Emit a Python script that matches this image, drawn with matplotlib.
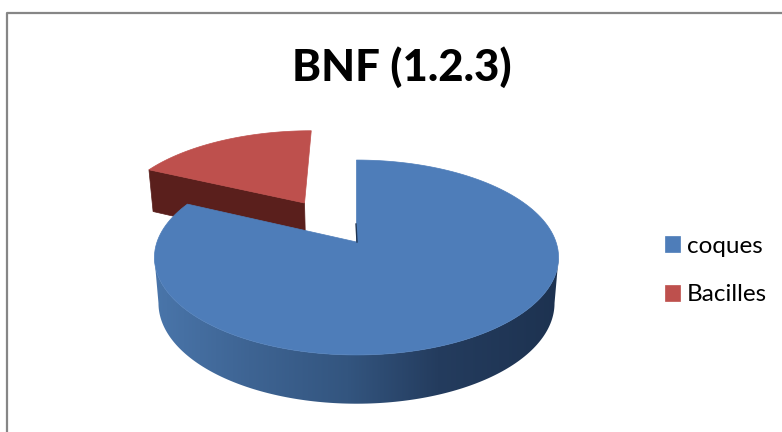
import numpy as np
import matplotlib
matplotlib.use("Agg")
import matplotlib.pyplot as plt
from matplotlib.patches import Polygon
from matplotlib.colors import LinearSegmentedColormap

categories = ["coques", "Bacilles"]
values = [82, 18]
colors = ["#4e7db9", "#be504d"]
title = "BNF (1.2.3)"

plt.rcParams["font.family"] = ["Lato", "DejaVu Sans"]

# pixel canvas, y goes down like the picture
fig = plt.figure(figsize=(7.82, 4.32), dpi=100)
ax = fig.add_axes([0, 0, 1, 1])

CX, CY = 356.5, 242
A, B, K = 199.5, 95, 0.159


def project(x, y, depth=0.0):
    p = 1 / (1 + K * y)
    d = depth * (42 - 3.5 * y) / 42
    return CX + A * x * p * (1 - 0.02 * depth / 45), CY - B * y * p + d


def arc(t0, t1, ox=0.0, oy=0.0, depth=0.0, n=160):
    # angles clockwise from 12 o'clock
    t = np.linspace(t0, t1, n)
    sx, sy = project(ox + np.sin(t), oy + np.cos(t), depth)
    return np.column_stack([sx, sy])


# frame has only top and left sides inside the crop
ax.plot([7, 7, 782], [432, 13, 13], color="#868686", lw=1.6)

fracs = np.array(values) / sum(values)
blue_end = 2 * np.pi * fracs[0]
red_start, red_end = blue_end, 2 * np.pi

# red slice is pulled out along its middle angle
mid = (red_start + red_end) / 2
ox, oy = 0.52 * np.sin(mid), 0.52 * np.cos(mid)
apex_top = np.array(project(ox, oy))
apex_low = np.array(project(ox, oy, 45))
left_top = arc(red_start, red_start, ox, oy, 0, 1)[0]
left_low = arc(red_start, red_start, ox, oy, 45, 1)[0]
ax.add_patch(Polygon([left_top, apex_top, apex_low, left_low], fc="#5a1f1c", ec="#5a1f1c", lw=0.5))
red_top = Polygon(np.vstack([apex_top, arc(red_start, red_end, ox, oy)]), fc=colors[1], ec=colors[1],
                  lw=0.5, label=categories[1])
ax.add_patch(red_top)

# blue rim: horizontal gradient clipped to the front of the disc
# starts where the ellipse is widest so the sides run straight down
wide = np.arccos(-K)
rim_top = arc(wide, 2 * np.pi - wide)
rim_low = arc(wide, 2 * np.pi - wide, depth=45)
rim = Polygon(np.vstack([rim_top, rim_low[::-1]]), fc="none", ec="none", transform=ax.transData)
ax.add_patch(rim)
shade = LinearSegmentedColormap.from_list("rim", [(0.0, "#4a76ab"), (0.24, "#3e6493"), (0.48, "#33557f"),
                                                  (0.70, "#243c5e"), (1.0, "#1d3250")])
img = ax.imshow(np.linspace(0, 1, 256)[None, :], cmap=shade, extent=(150, 562, 410, 240), aspect="auto", zorder=1.5)
img.set_clip_path(rim)

blue_top = Polygon(np.vstack([project(0, 0), arc(0, blue_end)]), fc=colors[0], ec=colors[0],
                   lw=0.5, label=categories[0], zorder=2)
ax.add_patch(blue_top)

# thin dark edge of the cut next to the centre
sx, sy = project(0, 0)
ax.plot([sx + 0.5, sx - 0.5], [sy, sy - 18], color="#1f3553", lw=1, zorder=2.1)

ax.set_xlim(0, 782)
ax.set_ylim(432, 0)
ax.axis("off")

ax.text(402, 67, title, fontsize=31.5, fontweight="black", ha="center", va="center", color="black")

ax.legend(handles=[blue_top, red_top], loc="center left", bbox_to_anchor=(643 / 782, 1 - 270.5 / 432),
          frameon=False, fontsize=17.5, handlelength=0.62, handleheight=0.62, handletextpad=0.29,
          labelspacing=1.13, labelcolor="black")

fig.savefig("out.png", dpi=100)
